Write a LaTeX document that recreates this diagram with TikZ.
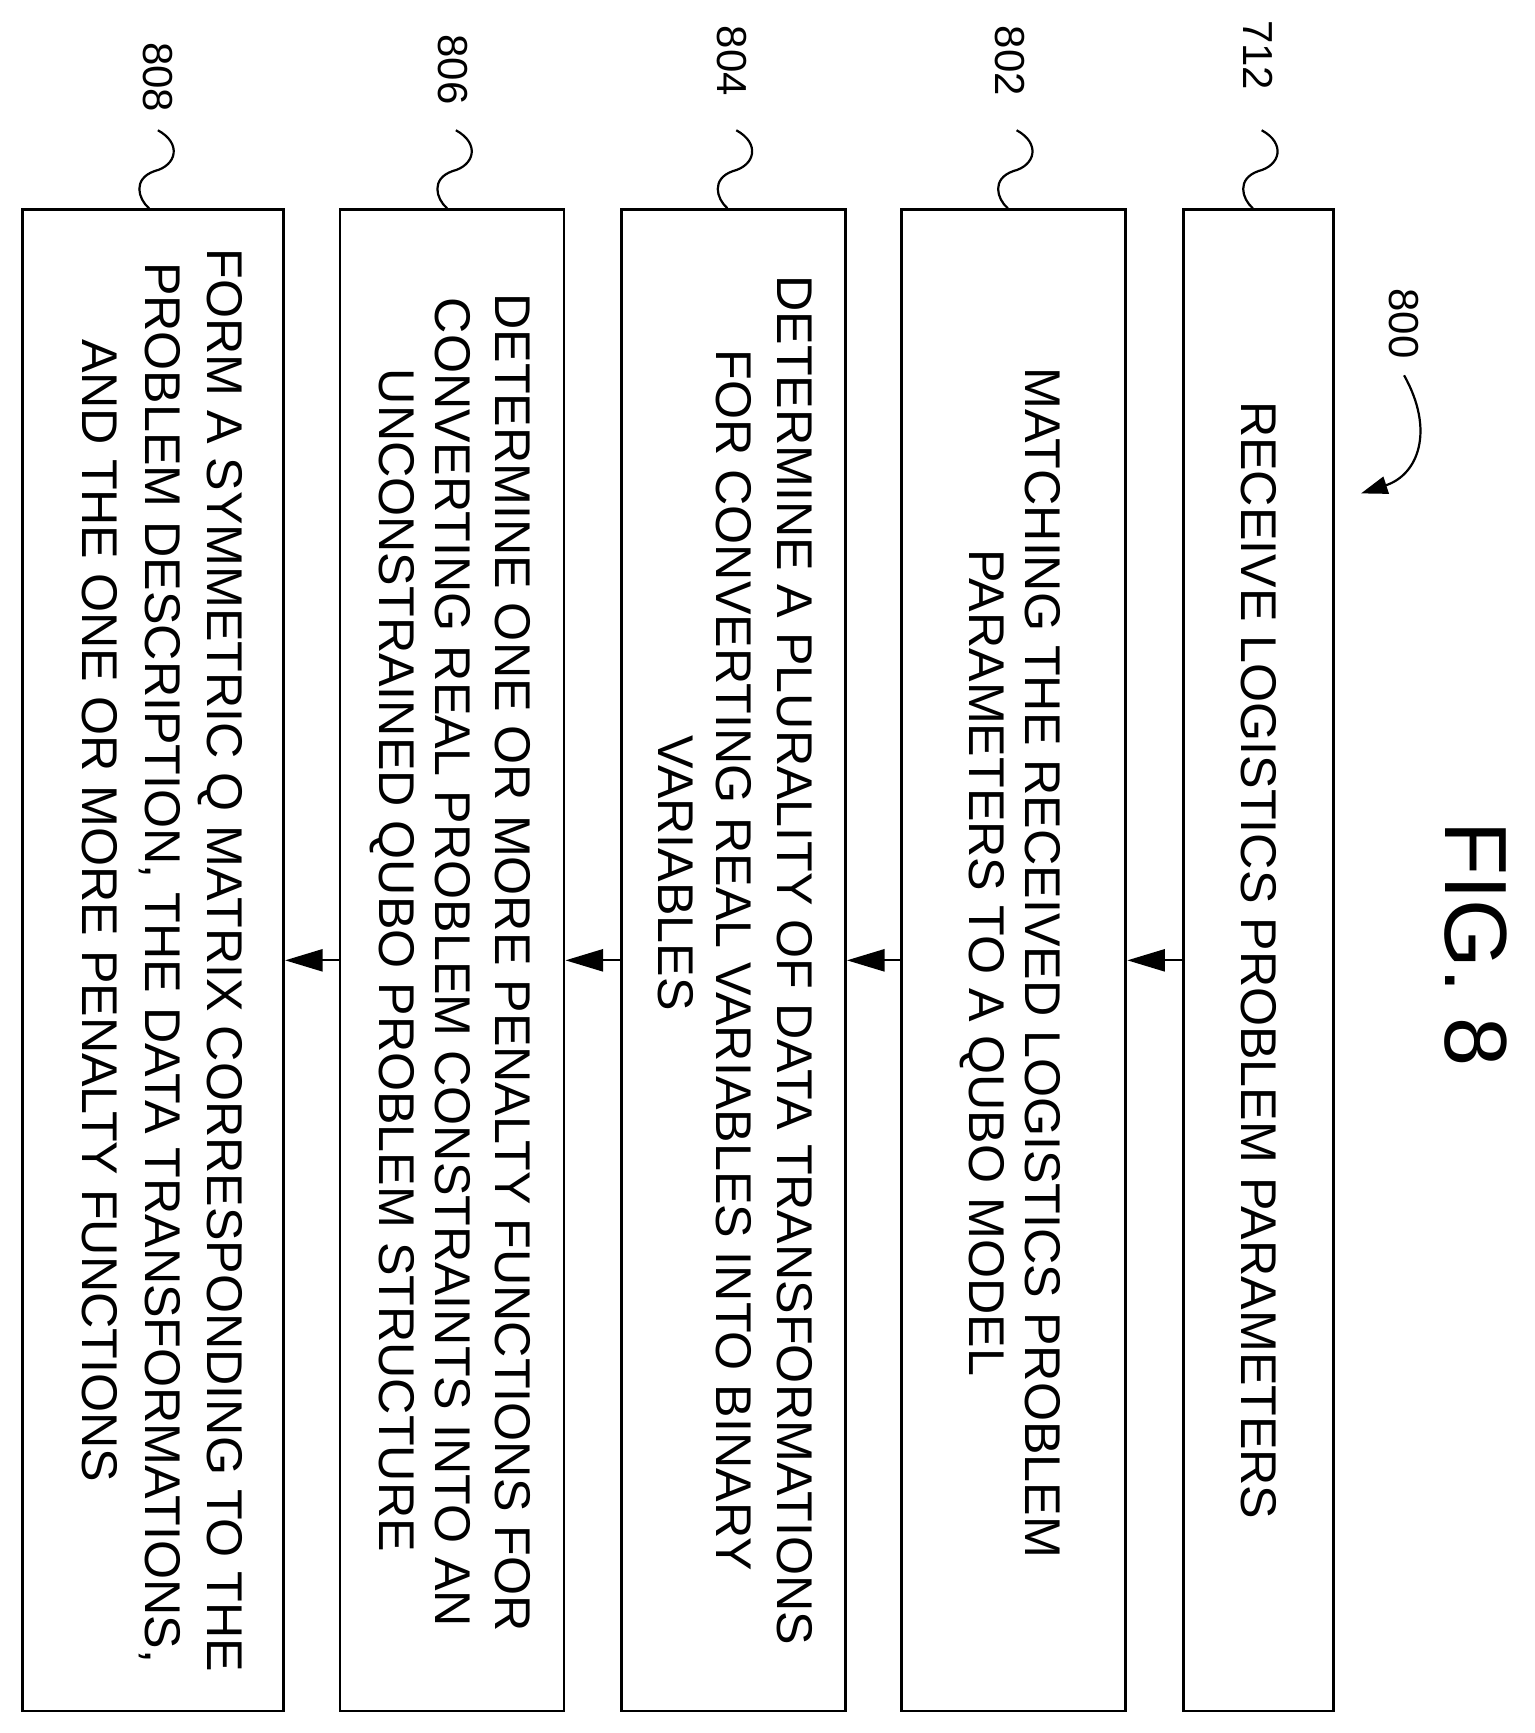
\documentclass[tikz,border=0pt]{standalone}
\usepackage{fontspec}
\setmainfont{Liberation Sans}
\usetikzlibrary{arrows.meta}
\begin{document}
\begin{tikzpicture}[x=1pt,y=-1pt,
  box/.style={draw,line width=2.6pt},
  txt/.style={rotate=-90,inner sep=0pt,font=\fontsize{45.5}{50}\selectfont},
  lab/.style={rotate=-90,inner sep=0pt,font=\fontsize{38}{44}\selectfont},
  conn/.style={line width=2pt,-{Triangle[length=34pt,width=20pt]}},
  sq/.style={line width=2pt}]
\useasboundingbox (0,0) rectangle (1390,1570);
\node[box,minimum width=136pt,minimum height=1360pt] (b712) at (1140,870) {};
\node[box,minimum width=203pt,minimum height=1360pt] (b802) at (918.5,870) {};
\node[box,minimum width=203pt,minimum height=1360pt] (b804) at (664.5,870) {};
\node[box,minimum width=203pt,minimum height=1360pt] (b806) at (409.5,870) {};
\node[box,minimum width=237pt,minimum height=1360pt] (b808) at (138.5,870) {};
\draw[conn] (b712.west) -- (b802.east);
\draw[conn] (b802.west) -- (b804.east);
\draw[conn] (b804.west) -- (b806.east);
\draw[conn] (b806.west) -- (b808.east);
\node[txt] (t1) at (1140,870) {RECEIVE LOGISTICS PROBLEM PARAMETERS};
\node[txt] (t2a) at (945,872) {MATCHING THE RECEIVED LOGISTICS PROBLEM};
\node[txt] (t2b) at (890,872) {PARAMETERS TO A QUBO MODEL};
\node[txt] (t3a) at (720,870) {DETERMINE A PLURALITY OF DATA TRANSFORMATIONS};
\node[txt] (t3b) at (665,870) {FOR CONVERTING REAL VARIABLES INTO BINARY};
\node[txt] (t3c) at (612,791) {VARIABLES};
\node[txt] (t4a) at (465,872) {DETERMINE ONE OR MORE PENALTY FUNCTIONS FOR};
\node[txt] (t4b) at (410,872) {CONVERTING REAL PROBLEM CONSTRAINTS INTO AN};
\node[txt] (t4c) at (355,870) {UNCONSTRAINED QUBO PROBLEM STRUCTURE};
\node[txt] (t5a) at (200,870) {FORM A SYMMETRIC Q MATRIX CORRESPONDING TO THE};
\node[txt] (t5b) at (145,872) {PROBLEM DESCRIPTION, THE DATA TRANSFORMATIONS,};
\node[txt] (t5c) at (90,825) {AND THE ONE OR MORE PENALTY FUNCTIONS};
\node[lab] (l712) at (1140,50) {712};
\node[lab] (l802) at (915,55) {802};
\node[lab] (l804) at (663,55) {804};
\node[lab] (l806) at (410,63) {806};
\node[lab] (l808) at (143,70) {808};
\node[lab] (l800) at (1272,293) {800};
\node[rotate=-90,inner sep=0pt,font=\fontsize{80}{90}\selectfont] (fig) at (1337,855) {FIG. 8};
\foreach \n/\x in {712/1140,802/918,804/664,806/410,808/140}{
  \draw[sq] (\x+3,118) .. controls (\x+25,130) and (\x+20,150) .. (\x,155)
     .. controls (\x-20,162) and (\x-15,180) .. (b\n.north -| \x-5,190);
}
\coordinate (a800) at (1233,447);
\draw[line width=2pt,-{Triangle[length=24pt,width=16pt]}] (1272,340) .. controls (1300,390) and (1285,430) .. (a800);
\end{tikzpicture}
\end{document}
